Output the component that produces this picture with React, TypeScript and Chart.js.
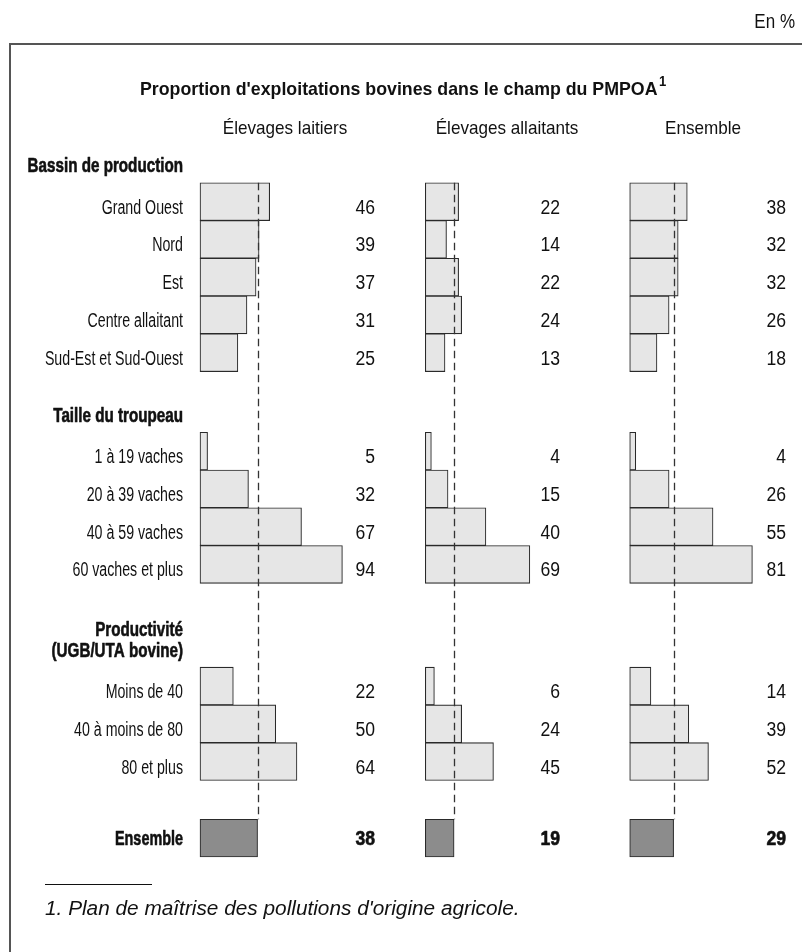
import React, { useEffect, useRef } from "react";
import { Chart, registerables } from "chart.js";

Chart.register(...registerables);

// ---------- data ----------
const columnTitles = ["Élevages laitiers", "Élevages allaitants", "Ensemble"];
const groupTitles = [["Bassin de production"], ["Taille du troupeau"], ["Productivité", "(UGB/UTA bovine)"]];

const bassinLabels = ["Grand Ouest", "Nord", "Est", "Centre allaitant", "Sud-Est et Sud-Ouest"];
const bassinLaitiers = [46, 39, 37, 31, 25];
const bassinAllaitants = [22, 14, 22, 24, 13];
const bassinEnsemble = [38, 32, 32, 26, 18];

const tailleLabels = ["1 à 19 vaches", "20 à 39 vaches", "40 à 59 vaches", "60 vaches et plus"];
const tailleLaitiers = [5, 32, 67, 94];
const tailleAllaitants = [4, 15, 40, 69];
const tailleEnsemble = [4, 26, 55, 81];

const prodLabels = ["Moins de 40", "40 à moins de 80", "80 et plus"];
const prodLaitiers = [22, 50, 64];
const prodAllaitants = [6, 24, 45];
const prodEnsemble = [14, 39, 52];

const totalLabel = "Ensemble";
const totals = [38, 19, 29];

const mainTitle = "Proportion d'exploitations bovines dans le champ du PMPOA";
const unitLabel = "En %";
const footnote = "1. Plan de maîtrise des pollutions d'origine agricole.";

// ---------- layout ----------
const W = 802;
const H = 952;
const PX_PER_UNIT = 1.515;
const COL_BASE = [200, 425.3, 629.7];
const VALUE_RIGHT = [375, 560, 786];
const HEADER_X = [285, 507, 703];
const ROW_H = 37.75;
const FIRST_ROW_Y = 201.7;
const LABEL_RIGHT = 183;
const GROUP_GAPS = [0, 1.61, 2.22, 1.03];
const TEXT_DY = 6.5;
const TOTAL_TEXT_DY = 1;

const SANS = '"Liberation Sans", Arial, sans-serif';
const COND = 0.71; // horizontal compression emulating a condensed face

type Row = { label: string; values: number[]; pos: number; total: boolean; group: number; first: boolean };

function buildRows(): Row[] {
  const groups = [
    { labels: bassinLabels, cols: [bassinLaitiers, bassinAllaitants, bassinEnsemble] },
    { labels: tailleLabels, cols: [tailleLaitiers, tailleAllaitants, tailleEnsemble] },
    { labels: prodLabels, cols: [prodLaitiers, prodAllaitants, prodEnsemble] },
  ];
  const rows: Row[] = [];
  let pos = 0;
  groups.forEach((g, gi) => {
    pos += GROUP_GAPS[gi];
    g.labels.forEach((lab, i) => {
      rows.push({ label: lab, values: g.cols.map((c) => c[i]), pos, total: false, group: gi, first: i === 0 });
      pos += 1;
    });
  });
  pos += GROUP_GAPS[3];
  rows.push({ label: totalLabel, values: totals, pos, total: true, group: 3, first: true });
  return rows;
}

function txt(
  ctx: CanvasRenderingContext2D,
  s: string,
  x: number,
  y: number,
  font: string,
  align: CanvasTextAlign,
  sx: number,
  heavy = 0
) {
  ctx.save();
  ctx.translate(x, y);
  ctx.scale(sx, 1);
  ctx.font = font;
  ctx.textAlign = align;
  ctx.textBaseline = "middle";
  ctx.fillText(s, 0, 0);
  if (heavy > 0) {
    ctx.lineWidth = heavy;
    ctx.strokeStyle = ctx.fillStyle as string;
    ctx.lineJoin = "round";
    ctx.strokeText(s, 0, 0);
  }
  ctx.restore();
}

export default function App() {
  const ref = useRef<HTMLCanvasElement | null>(null);

  useEffect(() => {
    const canvas = ref.current;
    if (!canvas) return;
    const rows = buildRows();
    const yMin = -FIRST_ROW_Y / ROW_H;
    const yMax = yMin + H / ROW_H;

    const xScales: any = {};
    [0, 1, 2].forEach((c) => {
      const mn = -COL_BASE[c] / PX_PER_UNIT;
      xScales["x" + c] = {
        type: "linear",
        display: false,
        offset: false,
        bounds: "data",
        min: mn,
        max: mn + W / PX_PER_UNIT,
      };
    });

    const datasets = [0, 1, 2].map((c) => ({
      label: columnTitles[c],
      data: rows.map((r) => ({ x: r.values[c], y: r.pos })),
      xAxisID: "x" + c,
      yAxisID: "y",
      grouped: false,
      barThickness: ROW_H,
      backgroundColor: rows.map((r) => (r.total ? "#8c8c8c" : "#e6e6e6")),
      borderColor: "#2a2a2a",
      borderWidth: 1.1,
      borderSkipped: false as any,
    }));

    const overlay = {
      id: "overlay",
      afterDatasetsDraw(chart: any) {
        const ctx: CanvasRenderingContext2D = chart.ctx;
        const ys = chart.scales.y;
        const top = ys.getPixelForValue(rows[0].pos - 0.5);
        const totalRow = rows[rows.length - 1];
        const bottom = ys.getPixelForValue(totalRow.pos - 0.5);
        ctx.save();
        ctx.strokeStyle = "#333";
        ctx.lineWidth = 1.3;
        ctx.setLineDash([7.5, 4.5]);
        [0, 1, 2].forEach((c) => {
          const x = Math.round(chart.scales["x" + c].getPixelForValue(totals[c])) + 0.5;
          ctx.beginPath();
          ctx.moveTo(x, top);
          ctx.lineTo(x, bottom);
          ctx.stroke();
        });
        ctx.restore();
      },
      afterDraw(chart: any) {
        const ctx: CanvasRenderingContext2D = chart.ctx;
        const ys = chart.scales.y;
        ctx.save();
        // frame
        ctx.strokeStyle = "#555";
        ctx.lineWidth = 2;
        ctx.setLineDash([]);
        ctx.beginPath();
        ctx.moveTo(10, H);
        ctx.lineTo(10, 44);
        ctx.lineTo(W, 44);
        ctx.stroke();

        ctx.fillStyle = "#111";
        // unit
        txt(ctx, unitLabel, 795, 22, `20px ${SANS}`, "right", 0.85);

        // title
        const TSX = 0.935;
        ctx.font = `bold 19px ${SANS}`;
        const tw = ctx.measureText(mainTitle).width * TSX;
        const tx = 140;
        txt(ctx, mainTitle, tx, 90, `bold 19px ${SANS}`, "left", TSX);
        txt(ctx, "1", tx + tw + 1.5, 82, `bold 14px ${SANS}`, "left", TSX);

        // column headers
        columnTitles.forEach((t, c) => txt(ctx, t, HEADER_X[c], 129, `19px ${SANS}`, "center", 0.9));

        // rows
        rows.forEach((r) => {
          const cy = ys.getPixelForValue(r.pos) + (r.total ? TOTAL_TEXT_DY : TEXT_DY);
          const barTop = ys.getPixelForValue(r.pos - 0.5);
          if (r.first && !r.total) {
            const lines = groupTitles[r.group];
            lines.forEach((ln, i) => {
              txt(ctx, ln, LABEL_RIGHT, barTop - 16 - (lines.length - 1 - i) * 21, `bold 20px ${SANS}`, "right", 0.76, 0.6);
            });
          }
          const f = r.total ? `bold 20px ${SANS}` : `20px ${SANS}`;
          const hv = r.total ? 0.6 : 0;
          txt(ctx, r.label, LABEL_RIGHT, cy, f, "right", r.total ? 0.72 : COND, hv);
          r.values.forEach((v, c) => txt(ctx, String(v), VALUE_RIGHT[c], cy, f, "right", 0.88, hv));
        });

        // footnote
        ctx.strokeStyle = "#111";
        ctx.lineWidth = 1;
        ctx.beginPath();
        ctx.moveTo(45, 884.5);
        ctx.lineTo(152, 884.5);
        ctx.stroke();
        txt(ctx, footnote, 45, 909, `italic 20px ${SANS}`, "left", 1.04);
        ctx.restore();
      },
    };

    const chart = new Chart(canvas, {
      type: "bar",
      data: { datasets } as any,
      options: {
        indexAxis: "y",
        responsive: false,
        animation: false,
        devicePixelRatio: 1,
        layout: { padding: 0, autoPadding: false },
        plugins: { legend: { display: false }, tooltip: { enabled: false }, title: { display: false } },
        scales: {
          ...xScales,
          y: {
            type: "linear",
            display: false,
            reverse: true,
            offset: false,
            bounds: "data",
            min: yMin,
            max: yMax,
          },
        },
      } as any,
      plugins: [overlay],
    });
    return () => chart.destroy();
  }, []);

  return (
    <div style={{ position: "fixed", left: 0, top: 0, width: W, height: H, background: "#fff" }}>
      <canvas ref={ref} width={W} height={H} style={{ width: W, height: H, display: "block" }} />
    </div>
  );
}
